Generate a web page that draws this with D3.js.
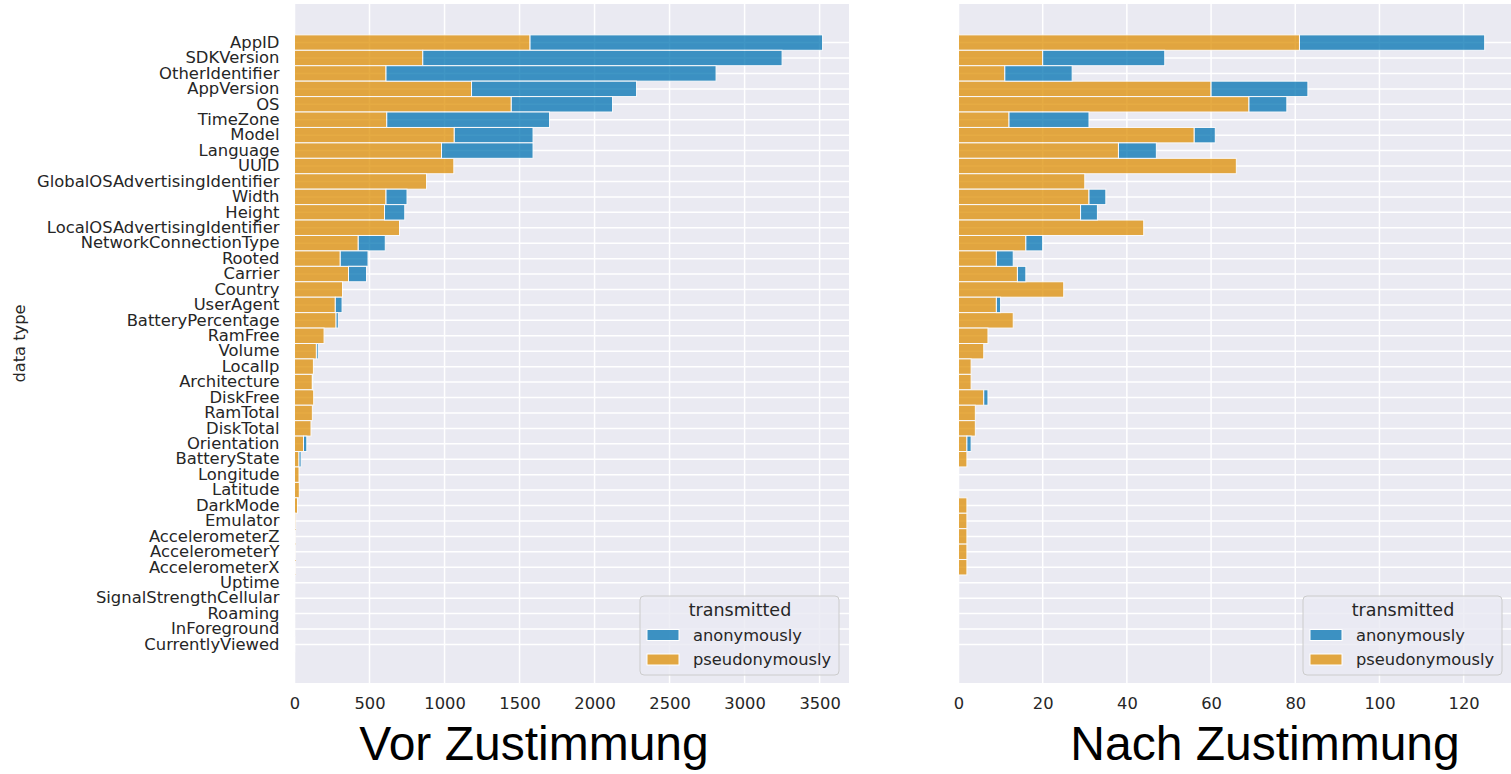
<!DOCTYPE html>
<html>
<head>
<meta charset="utf-8">
<script src="https://cdn.jsdelivr.net/npm/d3@7"></script>
<style>
  body { margin: 0; background: #ffffff; }
  svg { display: block; }
</style>
</head>
<body>
<svg id="chart" width="1511" height="774"></svg>
<script>
// Data types, ordered as on the y axis
const dataTypes = [
  "AppID", "SDKVersion", "OtherIdentifier", "AppVersion", "OS", "TimeZone", "Model",
  "Language", "UUID", "GlobalOSAdvertisingIdentifier", "Width", "Height",
  "LocalOSAdvertisingIdentifier", "NetworkConnectionType", "Rooted", "Carrier", "Country",
  "UserAgent", "BatteryPercentage", "RamFree", "Volume", "LocalIp", "Architecture",
  "DiskFree", "RamTotal", "DiskTotal", "Orientation", "BatteryState", "Longitude",
  "Latitude", "DarkMode", "Emulator", "AccelerometerZ", "AccelerometerY", "AccelerometerX",
  "Uptime", "SignalStrengthCellular", "Roaming", "InForeground", "CurrentlyViewed"
];

// Before consent: counts per data type
const beforePseudonymous = [
  1570, 855, 610, 1180, 1445, 615, 1065, 980, 1062, 880, 610, 600,
  700, 425, 305, 360, 320, 272, 277, 197, 146, 126, 119, 128, 119, 110,
  60, 30, 30, 32, 20, 8, 7, 7, 7, 2, 1, 1, 1, 2
];
const beforeAnonymous = [
  1950, 2395, 2200, 1100, 675, 1085, 525, 610, 0, 0, 140, 135,
  0, 180, 185, 120, 0, 45, 15, 0, 12, 0, 6, 0, 0, 0,
  22, 14, 0, 0, 0, 0, 0, 0, 0, 0, 0, 0, 0, 0
];

// After consent: counts per data type
const afterPseudonymous = [
  81, 20, 11, 60, 69, 12, 56, 38, 66, 30, 31, 29,
  44, 16, 9, 14, 25, 9, 13, 7, 6, 3, 3, 6, 4, 4,
  2, 2, 0, 0, 2, 2, 2, 2, 2, 0, 0, 0, 0, 0
];
const afterAnonymous = [
  44, 29, 16, 23, 9, 19, 5, 9, 0, 0, 4, 4,
  0, 4, 4, 2, 0, 1, 0, 0, 0, 0, 0, 1, 0, 0,
  1, 0, 0, 0, 0, 0, 0, 0, 0, 0, 0, 0, 0, 0
];

const beforeTicks = [0, 500, 1000, 1500, 2000, 2500, 3000, 3500];
const afterTicks = [0, 20, 40, 60, 80, 100, 120];

const seriesNames = ["anonymously", "pseudonymously"];
const seriesColors = { anonymously: "#0173b2", pseudonymously: "#de8f05" };
const legendTitle = "transmitted";
const yAxisTitle = "data type";
const panelTitles = ["Vor Zustimmung", "Nach Zustimmung"];

const svg = d3.select("#chart");
const FONT = "DejaVu Sans, sans-serif";
const TEXT = "#262626";

const y = d3.scaleBand()
  .domain(dataTypes)
  .range([4, 683])
  .paddingInner(0)
  .paddingOuter(2);

function drawPanel(opts) {
  const { x0, x1, pseudo, anon, ticks, showYLabels, legendX, title, titleX } = opts;
  const totals = pseudo.map((p, i) => p + anon[i]);
  const x = d3.scaleLinear()
    .domain([0, d3.max(totals) * 1.05])
    .range([x0, x1]);

  const g = svg.append("g");
  const [yTop, yBottom] = y.range();

  // plot background
  g.append("rect")
    .attr("x", x0).attr("y", yTop)
    .attr("width", x1 - x0).attr("height", yBottom - yTop)
    .attr("fill", "#eaeaf2");

  // grid
  const grid = g.append("g").attr("stroke", "#ffffff").attr("stroke-width", 1.5);
  grid.selectAll("line.vx").data(ticks).join("line")
    .attr("x1", d => x(d)).attr("x2", d => x(d))
    .attr("y1", yTop).attr("y2", yBottom);
  grid.selectAll("line.hy").data(dataTypes).join("line")
    .attr("x1", x0).attr("x2", x1)
    .attr("y1", d => y(d) + y.bandwidth() / 2)
    .attr("y2", d => y(d) + y.bandwidth() / 2);

  // stacked bars: pseudonymous from zero, anonymous on top of it
  const rows = dataTypes.map((d, i) => ({ key: d, pseudo: pseudo[i], anon: anon[i] }));
  const bars = g.append("g").attr("opacity", 0.75);
  bars.selectAll("rect.p").data(rows.filter(r => r.pseudo > 0)).join("rect")
    .attr("x", x(0))
    .attr("y", r => y(r.key))
    .attr("width", r => x(r.pseudo) - x(0))
    .attr("height", y.bandwidth())
    .attr("fill", seriesColors.pseudonymously)
    .attr("stroke", "#ffffff").attr("stroke-width", 1);
  bars.selectAll("rect.a").data(rows.filter(r => r.anon > 0)).join("rect")
    .attr("x", r => x(r.pseudo))
    .attr("y", r => y(r.key))
    .attr("width", r => x(r.pseudo + r.anon) - x(r.pseudo))
    .attr("height", y.bandwidth())
    .attr("fill", seriesColors.anonymously)
    .attr("stroke", "#ffffff").attr("stroke-width", 1);

  // x axis
  const xAxis = g.append("g")
    .attr("transform", `translate(0,${yBottom})`)
    .call(d3.axisBottom(x).tickValues(ticks).tickSize(0).tickPadding(14).tickFormat(d3.format("d")));
  xAxis.select(".domain").remove();
  xAxis.selectAll("text")
    .attr("font-family", FONT).attr("font-size", 16.3).attr("fill", TEXT);

  // y axis
  if (showYLabels) {
    const yAxis = g.append("g")
      .attr("transform", `translate(${x0},0)`)
      .call(d3.axisLeft(y).tickSize(0).tickPadding(15));
    yAxis.select(".domain").remove();
    yAxis.selectAll("text")
      .attr("font-family", FONT).attr("font-size", 16.4).attr("fill", TEXT);

    g.append("text")
      .attr("transform", `translate(25,${(yTop + yBottom) / 2}) rotate(-90)`)
      .attr("text-anchor", "middle")
      .attr("font-family", FONT).attr("font-size", 16.3).attr("fill", TEXT)
      .text(yAxisTitle);
  }

  // legend
  const lg = g.append("g").attr("transform", `translate(${legendX},596)`);
  lg.append("rect")
    .attr("width", 199).attr("height", 79).attr("rx", 4)
    .attr("fill", "#eaeaf2").attr("fill-opacity", 0.8)
    .attr("stroke", "#cccccc").attr("stroke-width", 1);
  lg.append("text")
    .attr("x", 100).attr("y", 14).attr("dy", "0.35em")
    .attr("text-anchor", "middle")
    .attr("font-family", FONT).attr("font-size", 17.5).attr("fill", TEXT)
    .text(legendTitle);
  seriesNames.forEach((name, i) => {
    const cy = 39 + i * 24.5;
    lg.append("rect")
      .attr("x", 7).attr("y", cy - 5.5).attr("width", 32).attr("height", 11)
      .attr("fill", seriesColors[name]).attr("fill-opacity", 0.75)
      .attr("stroke", "#ffffff").attr("stroke-width", 1);
    lg.append("text")
      .attr("x", 53).attr("y", cy).attr("dy", "0.35em")
      .attr("font-family", FONT).attr("font-size", 16.3).attr("fill", TEXT)
      .text(name);
  });

  // panel title
  svg.append("text")
    .attr("x", titleX).attr("y", 760)
    .attr("text-anchor", "middle")
    .attr("font-family", "Liberation Sans, Arial, sans-serif")
    .attr("font-size", 48).attr("fill", "#000000")
    .text(title);
}

drawPanel({
  x0: 294.5, x1: 849, pseudo: beforePseudonymous, anon: beforeAnonymous,
  ticks: beforeTicks, showYLabels: true, legendX: 640,
  title: panelTitles[0], titleX: 534
});
drawPanel({
  x0: 958.5, x1: 1511, pseudo: afterPseudonymous, anon: afterAnonymous,
  ticks: afterTicks, showYLabels: false, legendX: 1303,
  title: panelTitles[1], titleX: 1265
});
</script>
</body>
</html>
